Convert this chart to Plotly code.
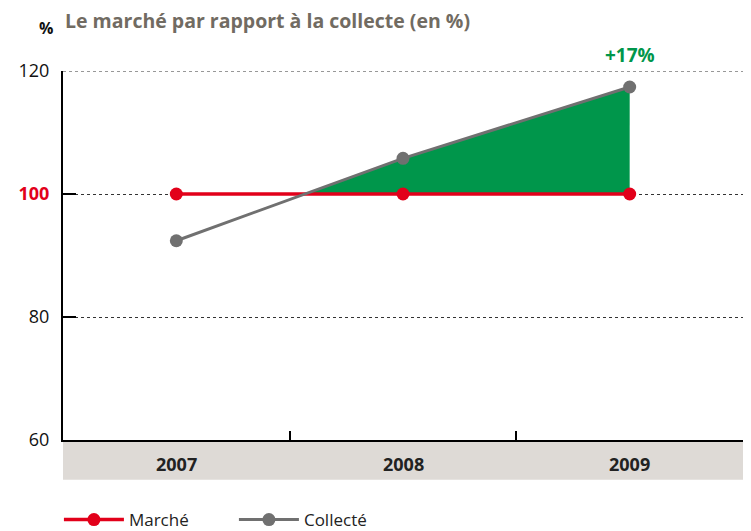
import plotly.graph_objects as go

years = ["2007", "2008", "2009"]
marche = [100, 100, 100]
collecte = [92.4, 105.8, 117.4]
y_ticks = [60, 80, 100, 120]

RED = "#e2001a"
GRAY = "#707070"
GREEN = "#00964b"
FONT = "Open Sans"

xs = list(range(len(years)))

# Fill where collecte exceeds marche: start at the crossing point
i0 = next(i for i in range(1, len(xs)) if collecte[i] > marche[i])
d0 = collecte[i0 - 1] - marche[i0 - 1]
d1 = collecte[i0] - marche[i0]
xc = xs[i0 - 1] + (0 - d0) / (d1 - d0)
yc = marche[i0 - 1] + (marche[i0] - marche[i0 - 1]) * (xc - xs[i0 - 1])
fx = [xc] + xs[i0:] + xs[i0:][::-1] + [xc]
fy = [yc] + collecte[i0:] + marche[i0:][::-1] + [yc]

fig = go.Figure()
fig.add_trace(go.Scatter(x=fx, y=fy, fill="toself", fillcolor=GREEN, mode="none",
                         showlegend=False, hoverinfo="skip"))
fig.add_trace(go.Scatter(x=xs, y=marche, mode="lines+markers", name="Marché",
                         line=dict(color=RED, width=3.5), marker=dict(size=13, color=RED)))
fig.add_trace(go.Scatter(x=xs, y=collecte, mode="lines+markers", name="Collecté",
                         line=dict(color=GRAY, width=3), marker=dict(size=13, color=GRAY)))

tick_text = []
for v in y_ticks:
    if v == 100:
        tick_text.append(f"<span style='color:{RED}'><b>{v}</b></span>")
    else:
        tick_text.append(str(v))

# page body has an 8px margin, so the figure is sized/offset to compensate
fig.update_layout(
    width=743, height=523,
    margin=dict(l=55, r=8, t=63, b=91, autoexpand=False),
    paper_bgcolor="white", plot_bgcolor="white",
    font=dict(family=FONT, color="#111"),
    showlegend=True,
    legend=dict(orientation="h", x=-0.006, xanchor="left", y=-0.217, yanchor="middle",
                font=dict(size=17, color="#222", family=FONT), itemwidth=60,
                entrywidth=100, entrywidthmode="pixels", tracegroupgap=0),
    xaxis=dict(range=[-0.5, len(years) - 0.5], showgrid=False, zeroline=False,
               showline=True, linecolor="black", linewidth=2,
               tickvals=[x + 0.5 for x in xs], ticks="inside", ticklen=9,
               tickwidth=1.5, tickcolor="black", showticklabels=False),
    yaxis=dict(range=[60, 120], tickvals=y_ticks, ticktext=tick_text,
               showgrid=True, gridcolor="#333", griddash="dot", gridwidth=1,
               zeroline=False, showline=True, linecolor="black", linewidth=2,
               ticks="inside", ticklen=13, tickwidth=1.5, tickcolor="black",
               tickfont=dict(size=18, color="#111", family=FONT),
               ticklabelstandoff=8),
)

# top gridline (plotly drops the gridline on the range edge)
fig.add_shape(type="line", xref="paper", yref="y", x0=0, x1=1,
              y0=max(y_ticks), y1=max(y_ticks), line=dict(color="#333", width=1, dash="dot"))

# grey category band
fig.add_shape(type="rect", xref="paper", yref="paper", x0=0, x1=1, y0=-0.108, y1=0,
              fillcolor="#dedad6", line=dict(width=0), layer="below")

for x, label in zip(xs, years):
    fig.add_annotation(x=x, y=-0.066, xref="x", yref="paper", text=f"<b>{label}</b>",
                       showarrow=False, font=dict(size=18, color="#222", family=FONT),
                       yanchor="middle")

# title and unit
fig.add_annotation(x=0, y=1 + 51 / 369, xref="paper", yref="paper", xanchor="left",
                   yanchor="middle",
                   text="<b>Le marché par rapport à la collecte (en %)</b>",
                   showarrow=False, font=dict(size=19.5, color="#716b62", family=FONT))
fig.add_annotation(x=-17 / 680, y=1 + 43 / 369, xref="paper", yref="paper",
                   xanchor="center", yanchor="middle", text="<b>%</b>",
                   showarrow=False, font=dict(size=16, color="#111", family=FONT))

# variation label
pct = round((collecte[-1] - marche[-1]) / marche[-1] * 100)
fig.add_annotation(x=xs[-1], y=collecte[-1], xref="x", yref="y", text=f"<b>+{pct}%</b>",
                   showarrow=False, yshift=32, font=dict(size=19, color=GREEN, family=FONT))

fig.write_html("out.html")
